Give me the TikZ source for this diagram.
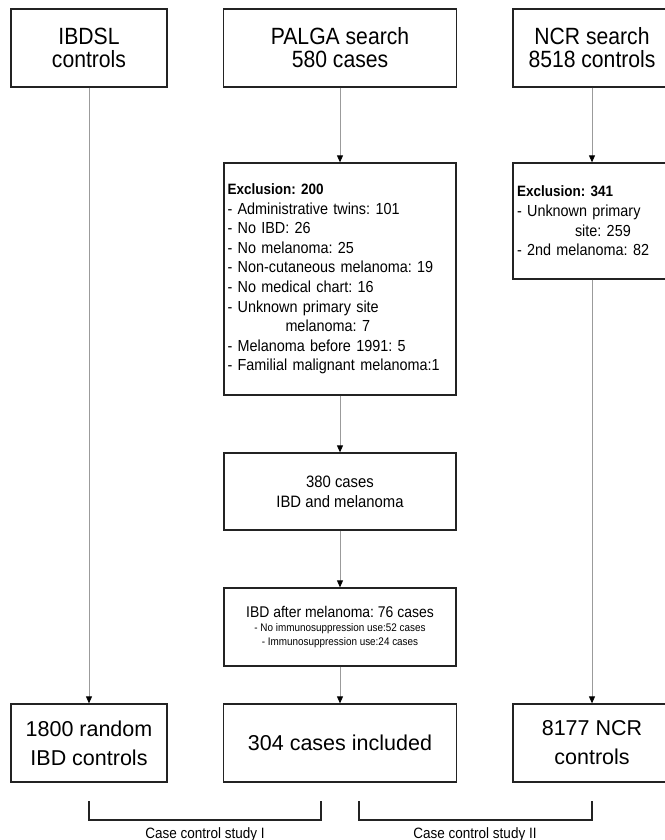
\documentclass[tikz,border=0pt]{standalone}
\usepackage{fontspec}
\setmainfont{Liberation Sans}
\newfontfamily\narrowsans{Liberation Sans}[FakeStretch=0.9]
\usetikzlibrary{arrows.meta}
\definecolor{boxline}{RGB}{35,35,35}
\definecolor{linkgray}{RGB}{155,155,155}
\frenchspacing

\begin{document}
\begin{tikzpicture}[x=1pt,y=-1pt,
		box/.style={draw=boxline,line width=1.3pt,inner sep=0pt,align=center},
		link/.style={draw=linkgray,line width=0.8pt,-{Triangle[color=black,length=7pt,width=6pt]}},
		bracket/.style={draw=boxline,line width=1.3pt}]
		\useasboundingbox (0,0) rectangle (664,840);
		\coordinate (ibdsl_c) at (89,48);
		\coordinate (palga_c) at (340,48);
		\coordinate (ncr_c) at (592,48);
		\coordinate (excl_c) at (340,279);
		\coordinate (exncr_c) at (592,221);
		\coordinate (mid_c) at (340,491.5);
		\coordinate (after_c) at (340,627);
		\coordinate (rand_c) at (89,743);
		\coordinate (incl_c) at (340,743);
		\coordinate (ncrctrl_c) at (592,743);
		% top row
		\node[box,minimum width=156pt,minimum height=78pt,font=\narrowsans\fontsize{23.5}{23}\selectfont] (IBDSL) at (ibdsl_c) {IBDSL\\controls};
		\node[box,minimum width=233pt,minimum height=78pt,font=\narrowsans\fontsize{23.5}{23}\selectfont] (PALGA) at (palga_c) {PALGA search\\580 cases};
		\node[box,minimum width=158pt,minimum height=78pt,font=\narrowsans\fontsize{23.5}{23}\selectfont] (NCR) at (ncr_c) {NCR search\\8518 controls};
		% exclusions
		\node[box,align=left,text width=225pt,inner xsep=3.5pt,minimum height=232pt,font=\narrowsans\fontsize{16}{19.6}\selectfont] (Excl) at (excl_c)
			{{\bfseries\fontsize{15}{19.6}\selectfont Exclusion: 200}\\
			- Administrative twins: 101\\
			- No IBD: 26\\
			- No melanoma: 25\\
			- Non-cutaneous melanoma: 19\\
			- No medical chart: 16\\
			- Unknown primary site\\
			\hspace*{58pt}melanoma: 7\\
			- Melanoma before 1991: 5\\
			- Familial malignant melanoma:1};
		\node[box,align=left,text width=150pt,inner xsep=4pt,minimum height=116pt,font=\narrowsans\fontsize{16}{19.6}\selectfont] (ExclNCR) at (exncr_c)
			{{\bfseries\fontsize{15}{19.6}\selectfont Exclusion: 341}\\
			- Unknown primary\\
			\hspace*{58pt}site: 259\\
			- 2nd melanoma: 82};
		\node[box,minimum width=232pt,minimum height=77pt,font=\narrowsans\fontsize{16.5}{20}\selectfont] (Cases380) at (mid_c) {380 cases\\IBD and melanoma};
		\node[box,minimum width=232pt,minimum height=78pt,font=\narrowsans\fontsize{15.5}{14}\selectfont] (After) at (after_c)
			{IBD after melanoma: 76 cases\\
			{\fontsize{11}{14}\selectfont - No immunosuppression use:52 cases}\\
			{\fontsize{11}{14}\selectfont - Immunosuppression use:24 cases}};
		% bottom row
		\node[box,minimum width=156pt,minimum height=78pt,font=\fontsize{21.5}{29}\selectfont] (Random) at (rand_c) {1800 random\\IBD controls};
		\node[box,minimum width=233pt,minimum height=78pt,font=\fontsize{21.5}{29}\selectfont] (Included) at (incl_c) {304 cases included};
		\node[box,minimum width=158pt,minimum height=78pt,font=\fontsize{21.5}{29}\selectfont] (NCRctrl) at (ncrctrl_c) {8177 NCR\\controls};
		% connectors
		\draw[link] (IBDSL) -- (Random);
		\draw[link] (PALGA) -- (Excl);
		\draw[link] (Excl) -- (Cases380);
		\draw[link] (Cases380) -- (After);
		\draw[link] (After) -- (Included);
		\draw[link] (NCR) -- (ExclNCR);
		\draw[link] (ExclNCR) -- (NCRctrl);
		% study brackets
		\coordinate (study1_l) at (89,801);
		\coordinate (study1_r) at (321,801);
		\coordinate (study2_l) at (359,801);
		\coordinate (study2_r) at (592,801);
		\draw[bracket] (study1_l) -- ++(0,19) -| (study1_r);
		\draw[bracket] (study2_l) -- ++(0,19) -| (study2_r);
		\node[anchor=base,inner sep=0pt,font=\narrowsans\fontsize{15}{16}\selectfont] (Study1) at (205,838) {Case control study I};
		\node[anchor=base,inner sep=0pt,font=\narrowsans\fontsize{15}{16}\selectfont] (Study2) at (475,838) {Case control study II};
	\end{tikzpicture}
\end{document}
